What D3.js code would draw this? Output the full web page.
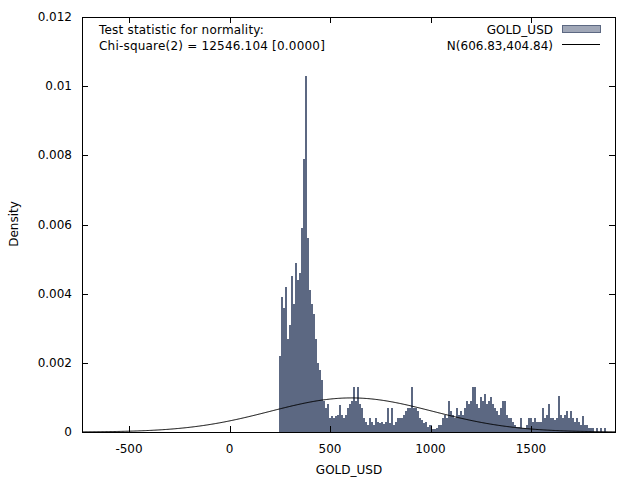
<!DOCTYPE html>
<html lang="en">
<head>
  <meta charset="UTF-8" />
  <title>GOLD_USD frequency distribution</title>
  <script src="https://d3js.org/d3.v7.min.js"></script>
  <style>
    body { margin: 0; padding: 0; background: #fff; }
    svg { display: block; }
    text { font-family: 'DejaVu Sans', sans-serif; font-size: 12px; fill: #000; }
  </style>
</head>
<body>
  <svg id="chart" width="640" height="480"></svg>

  <script>
    // histogram bins: first bin starts at binStart, every bin is binWidth wide
    const binStart = 245;
    const binWidth = 10;
    const density = [
      0.0022, 0.0039, 0.0036, 0.0042, 0.0027, 0.0031, 0.0045, 0.0037, 0.0049, 0.0044,
      0.0046, 0.0059, 0.0079, 0.0103, 0.0056, 0.0041, 0.0037, 0.0034, 0.0027, 0.0020,
      0.0018, 0.0015, 0.0009, 0.0007, 0.0008, 0.0004, 0.00045, 0.0004, 0.00045, 0.0005,
      0.00078, 0.0005, 0.0004, 0.0005, 0.0007, 0.0008, 0.0009, 0.0013, 0.0009, 0.0013,
      0.0008, 0.0007, 0.0004, 0.0003, 0.0002, 0.0004, 0.0003, 0.0002, 0.0004, 0.0003,
      0.00026, 0.0003, 0.00024, 0.0003, 0.0007, 0.00026, 0.0007, 0.0002, 0.0003, 0.0004,
      0.0004, 0.0004, 0.0005, 0.0006, 0.0007, 0.0007, 0.0013, 0.0007, 0.0007, 0.0006,
      0.0004, 0.00035, 0.00025, 0.0003, 0.00015, 0.0002, 0.0001, 0.0001, 0.00012, 0.0002,
      0.0002, 0.0004, 0.0005, 0.0004, 0.0009, 0.0006, 0.0005, 0.0004, 0.0007, 0.0005,
      0.0006, 0.0005, 0.0007, 0.0009, 0.0008, 0.0009, 0.0013, 0.0013, 0.0008, 0.0007,
      0.0010, 0.0009, 0.0011, 0.0008, 0.0009, 0.0010, 0.0008, 0.0007, 0.0006, 0.0005,
      0.0007, 0.0009, 0.0009, 0.0005, 0.0004, 0.0004, 0.0003, 0.0002, 0.00015, 0.00015,
      0.0004, 0.00012, 0.00012, 0.0002, 0.0004, 0.0004, 0.0003, 0.0004, 0.0003, 0.0003,
      0.0003, 0.0007, 0.0004, 0.0005, 0.0008, 0.0004, 0.0004, 0.00035, 0.0004, 0.00105,
      0.0005, 0.0004, 0.0005, 0.0006, 0.0004, 0.0006, 0.0004, 0.0003, 0.0004, 0.0003,
      0.0002, 0.00045, 0.0002, 0.0002, 0.00012, 0.00012, 0.00012, 0, 0.00012, 0,
      0.00012, 0, 0.00012
    ];

    const normMean = 606.83;
    const normSd = 404.84;

    const xDomain = [-734, 1918];
    const yDomain = [0, 0.012];
    const xTicks = [-500, 0, 500, 1000, 1500];
    const yTicks = [0, 0.002, 0.004, 0.006, 0.008, 0.01, 0.012];

    const seriesName = "GOLD_USD";
    const normName = "N(606.83,404.84)";
    const testLines = ["Test statistic for normality:", "Chi-square(2) = 12546.104 [0.0000]"];

    const plotL = 82, plotR = 615, plotT = 17, plotB = 432;
    const barColor = "#5c6882";
    const tickLen = 6;

    const svg = d3.select("#chart");
    const x = d3.scaleLinear().domain(xDomain).range([plotL, plotR]);
    const y = d3.scaleLinear().domain(yDomain).range([plotB, plotT]);

    // bars snapped to whole pixels so neighbours touch without seams
    const bx0 = i => Math.round(x(binStart + i * binWidth));
    svg.append("g").attr("shape-rendering", "crispEdges").selectAll("rect")
      .data(density)
      .join("rect")
        .attr("x", (d, i) => bx0(i))
        .attr("width", (d, i) => bx0(i + 1) - bx0(i))
        .attr("y", d => Math.round(y(d)))
        .attr("height", d => plotB - Math.round(y(d)))
        .attr("fill", barColor);

    // normal density curve
    const pdf = v => Math.exp(-0.5 * ((v - normMean) / normSd) ** 2) / (normSd * Math.sqrt(2 * Math.PI));
    const curveX = d3.range(xDomain[0], xDomain[1] + 1, 4);
    svg.append("path")
      .datum(curveX)
      .attr("fill", "none")
      .attr("stroke", "#000")
      .attr("stroke-width", 1)
      .attr("d", d3.line().x(v => x(v)).y(v => y(pdf(v))));

    // frame with mirrored inward ticks
    const axisG = svg.append("g").attr("stroke", "#000").attr("stroke-width", 1).attr("shape-rendering", "crispEdges");
    axisG.append("rect")
      .attr("x", plotL + 0.5).attr("y", plotT + 0.5)
      .attr("width", plotR - plotL).attr("height", plotB - plotT)
      .attr("fill", "none");

    xTicks.forEach(t => {
      const px = Math.round(x(t)) + 0.5;
      axisG.append("line").attr("x1", px).attr("x2", px).attr("y1", plotB).attr("y2", plotB - tickLen);
      axisG.append("line").attr("x1", px).attr("x2", px).attr("y1", plotT).attr("y2", plotT + tickLen);
      svg.append("text").attr("x", x(t)).attr("y", plotB + 21).attr("text-anchor", "middle").text(t);
    });
    yTicks.forEach(t => {
      const py = Math.round(y(t)) + 0.5;
      axisG.append("line").attr("x1", plotL).attr("x2", plotL + tickLen).attr("y1", py).attr("y2", py);
      axisG.append("line").attr("x1", plotR).attr("x2", plotR - tickLen).attr("y1", py).attr("y2", py);
      svg.append("text").attr("x", plotL - 10).attr("y", y(t) + 4).attr("text-anchor", "end").text(t);
    });

    // axis titles
    svg.append("text").attr("x", 349).attr("y", 474).attr("text-anchor", "middle").text(seriesName);
    svg.append("text").attr("transform", "translate(18,224) rotate(-90)").attr("text-anchor", "middle").text("Density");

    // test statistic
    testLines.forEach((s, i) => {
      svg.append("text").attr("x", 99).attr("y", 34 + i * 16).style("letter-spacing", "0.2px").text(s);
    });

    // legend
    svg.append("text").attr("x", 553).attr("y", 34).attr("text-anchor", "end").text(seriesName);
    svg.append("rect").attr("x", 562.5).attr("y", 25.5).attr("width", 38).attr("height", 7)
      .attr("fill", "#a0a7b7").attr("stroke", barColor);
    svg.append("text").attr("x", 553).attr("y", 50).attr("text-anchor", "end").text(normName);
    svg.append("line").attr("x1", 562).attr("x2", 600).attr("y1", 44.5).attr("y2", 44.5).attr("stroke", "#000");
  </script>
</body>
</html>
